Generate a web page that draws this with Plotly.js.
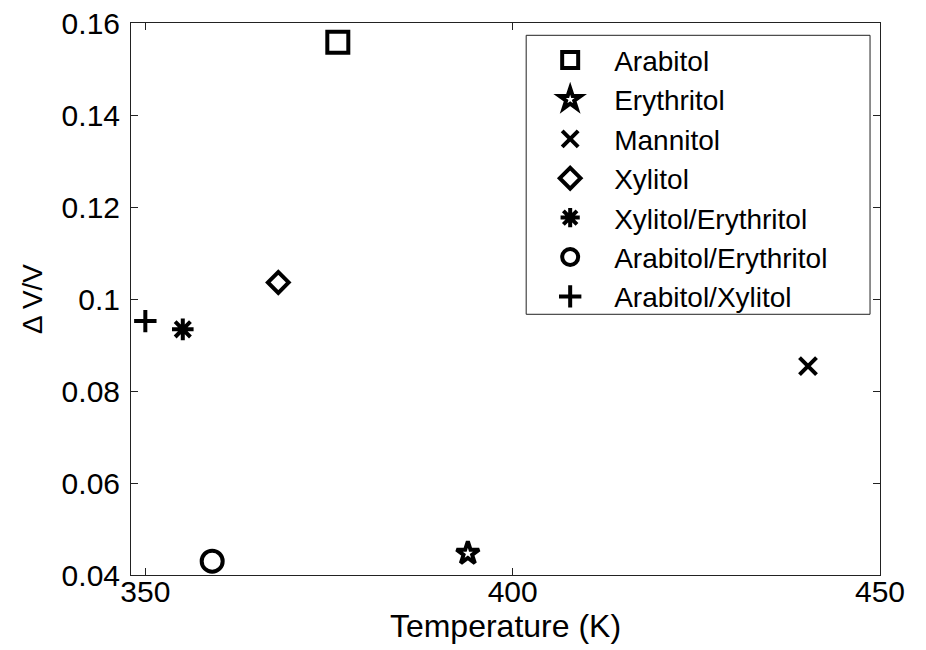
<!DOCTYPE html>
<html>
<head>
<meta charset="utf-8">
<script src="https://cdn.plot.ly/plotly-3.0.1.min.js"></script>
<style>
  html, body { margin: 0; padding: 0; background: #fff; }
  #chart { width: 926px; height: 650px; }
</style>
</head>
<body>
<div id="chart"></div>
<script>
// Volume change of sugar alcohols and their mixtures at the melting temperature
const seriesNames = ['Arabitol', 'Erythritol', 'Mannitol', 'Xylitol',
  'Xylitol/Erythritol', 'Arabitol/Erythritol', 'Arabitol/Xylitol'];
const temperatureK = [376.2, 393.9, 440.2, 368.1, 355.1, 359.1, 350.0];
const deltaVoverV = [0.1558, 0.0447, 0.0854, 0.1036, 0.0934, 0.0430, 0.0952];
const symbols = ['square-open', 'star-open', 'x-thin-open', 'diamond-open',
  'asterisk-open', 'circle-open', 'cross-thin-open'];
const markerSizes = [21, 17, 17, 16, 18, 21, 16];

const xTickVals = [350, 400, 450];
const yTickVals = [0.04, 0.06, 0.08, 0.1, 0.12, 0.14, 0.16];
const yTickText = ['0.04', '0.06', '0.08', '0.1', '0.12', '0.14', '0.16'];

const traces = seriesNames.map((name, i) => ({
  type: 'scatter',
  mode: 'markers',
  name: name,
  x: [temperatureK[i]],
  y: [deltaVoverV[i]],
  marker: {
    symbol: symbols[i],
    size: markerSizes[i],
    color: '#000',
    line: { color: '#000', width: 4 }
  }
}));

const font = { family: 'Arial, "Liberation Sans", sans-serif', color: '#000' };

// frame behind the legend entries (paper coordinates)
const legendFrame = { x0: 0.5276, x1: 0.9867, y0: 0.4723, y1: 0.9777 };

const layout = {
  width: 926,
  height: 650,
  paper_bgcolor: '#fff',
  plot_bgcolor: '#fff',
  margin: { l: 131, r: 46, t: 23, b: 75 },
  font: Object.assign({ size: 30 }, font),
  showlegend: true,
  legend: {
    x: legendFrame.x0, y: legendFrame.y1, xanchor: 'left', yanchor: 'top',
    bgcolor: 'rgba(0,0,0,0)',
    borderwidth: 0,
    itemwidth: 78,
    font: Object.assign({ size: 28 }, font)
  },
  shapes: [{
    type: 'rect', xref: 'paper', yref: 'paper',
    x0: legendFrame.x0, x1: legendFrame.x1, y0: legendFrame.y0, y1: legendFrame.y1,
    line: { color: '#222', width: 1 },
    fillcolor: '#fff',
    layer: 'above'
  }],
  xaxis: {
    range: [348.05, 450],
    tickvals: xTickVals,
    ticks: 'inside',
    ticklen: 7,
    tickcolor: '#222',
    showline: true,
    linecolor: '#222',
    linewidth: 1,
    mirror: 'allticks',
    showgrid: false,
    zeroline: false,
    ticklabelstandoff: -10,
    tickfont: Object.assign({ size: 30 }, font),
    title: { text: 'Temperature (K)', font: Object.assign({ size: 32 }, font), standoff: 2 }
  },
  yaxis: {
    range: [0.04, 0.16],
    tickvals: yTickVals,
    ticktext: yTickText,
    ticks: 'inside',
    ticklen: 7,
    tickcolor: '#222',
    showline: true,
    linecolor: '#222',
    linewidth: 1,
    mirror: 'allticks',
    showgrid: false,
    zeroline: false,
    ticklabelstandoff: 4,
    tickfont: Object.assign({ size: 30 }, font),
    title: { text: 'Δ V/V', font: Object.assign({ size: 28 }, font), standoff: 10 }
  }
};

Plotly.newPlot('chart', traces, layout, { displayModeBar: false, staticPlot: true });
</script>
</body>
</html>
